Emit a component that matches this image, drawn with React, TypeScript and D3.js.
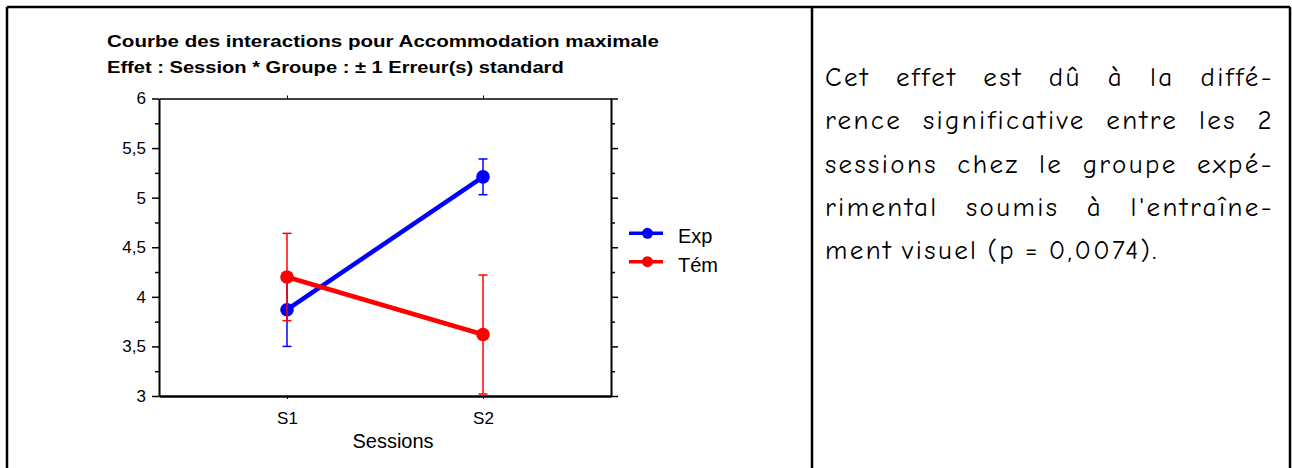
import React, { useEffect, useRef } from 'react';
import * as d3 from 'd3';

// Données
const sessions = ['S1', 'S2'];
const groupes = ['Exp', 'Tém'];
const couleurs = ['#0000ff', '#ff0000'];
const moyennesExp = [3.87, 5.21];
const erreursExp = [0.37, 0.18];
const moyennesTem = [4.2, 3.62];
const erreursTem = [0.44, 0.6];
const graduationsY = [3, 3.5, 4, 4.5, 5, 5.5, 6];
const graduationsMineures = [3.25, 3.75, 4.25, 4.75, 5.25, 5.75];

const titre = [
  'Courbe des interactions pour Accommodation maximale',
  'Effet : Session * Groupe : ± 1 Erreur(s) standard',
];
const titreX = 'Sessions';
const commentaire = [
  'Cet effet est dû à la diffé-',
  'rence significative entre les 2',
  'sessions chez le groupe expé-',
  "rimental soumis à l'entraîne-",
  'ment visuel (p = 0,0074).',
];

const ARIAL = "'Liberation Sans', Arial, sans-serif";
const COMIC = "'Comic Sans MS', 'Comic Neue', 'DejaVu Sans', sans-serif";

const App: React.FC = () => {
  const svgRef = useRef<SVGSVGElement>(null);

  useEffect(() => {
    if (!svgRef.current) return;
    const svg = d3.select(svgRef.current);
    svg.selectAll('*').remove();

    const left = 159, right = 611, top = 98.5, bottom = 396;

    const x = d3.scalePoint<string>().domain(sessions).range([left, right]).padding(0.653);
    const y = d3.scaleLinear().domain([3, 6]).range([bottom, top]);
    const fr = d3.formatLocale({ decimal: ',', thousands: ' ', grouping: [3], currency: ['', ' €'] });
    const fmt = fr.format('~g');

    // Cadre du tableau
    const cadre = svg.append('g').attr('stroke', '#000').attr('stroke-width', 2.5);
    cadre.append('line').attr('x1', 7).attr('x2', 1290).attr('y1', 7).attr('y2', 7);
    cadre.append('line').attr('x1', 7).attr('x2', 7).attr('y1', 7).attr('y2', 468);
    cadre.append('line').attr('x1', 812).attr('x2', 812).attr('y1', 7).attr('y2', 468);
    cadre.append('line').attr('x1', 1290).attr('x2', 1290).attr('y1', 7).attr('y2', 468);

    // Titre (légèrement étiré horizontalement comme l'original)
    const largeursTitre = [552, 457];
    svg.append('g')
      .attr('font-family', ARIAL)
      .attr('font-weight', 'bold')
      .attr('font-size', 17)
      .selectAll('text')
      .data(titre)
      .join('text')
      .text(d => d)
      .each(function (_, i) {
        const w = (this as SVGTextElement).getComputedTextLength();
        d3.select(this).attr('transform', `translate(107,${46.7 + i * 26.3}) scale(${largeursTitre[i] / w},1)`);
      });

    // Axes
    const gLeft = svg.append('g').attr('transform', `translate(${left},0)`);
    gLeft.call(d3.axisLeft(y).tickValues(graduationsY).tickSize(7).tickPadding(6).tickSizeOuter(0)
      .tickFormat(d => fmt(d as number)));
    gLeft.attr('font-size', 17).attr('font-family', ARIAL);
    gLeft.select('.domain').attr('stroke-width', 2);
    gLeft.selectAll('.tick line').attr('stroke-width', 1.5);

    const gLeftMin = svg.append('g').attr('transform', `translate(${left},0)`);
    gLeftMin.call(d3.axisLeft(y).tickValues(graduationsMineures).tickSize(4).tickFormat(() => ''));
    gLeftMin.select('.domain').remove();
    gLeftMin.selectAll('.tick line').attr('stroke-width', 1.5);

    const gRight = svg.append('g').attr('transform', `translate(${right},0)`);
    gRight.call(d3.axisRight(y).tickValues(graduationsY).tickSize(7).tickSizeOuter(0).tickFormat(() => ''));
    gRight.select('.domain').attr('stroke-width', 2);
    gRight.selectAll('.tick line').attr('stroke-width', 1.5);

    const gRightMin = svg.append('g').attr('transform', `translate(${right},0)`);
    gRightMin.call(d3.axisRight(y).tickValues(graduationsMineures).tickSize(4).tickFormat(() => ''));
    gRightMin.select('.domain').remove();
    gRightMin.selectAll('.tick line').attr('stroke-width', 1.5);

    const gTop = svg.append('g').attr('transform', `translate(0,${top})`);
    gTop.call(d3.axisTop(x).tickSize(3).tickSizeOuter(0).tickFormat(() => ''));
    gTop.select('.domain').attr('stroke-width', 1.4);

    const gBottom = svg.append('g').attr('transform', `translate(0,${bottom})`);
    gBottom.call(d3.axisBottom(x).tickSize(3).tickPadding(13).tickSizeOuter(0));
    gBottom.attr('font-size', 17).attr('font-family', ARIAL);
    gBottom.select('.domain').attr('stroke-width', 2.5);

    svg.append('text')
      .attr('x', 393)
      .attr('y', 448)
      .attr('text-anchor', 'middle')
      .attr('font-family', ARIAL)
      .attr('font-size', 20)
      .text(titreX);

    // Séries
    const series = [
      { nom: groupes[0], moyennes: moyennesExp, erreurs: erreursExp, couleur: couleurs[0] },
      { nom: groupes[1], moyennes: moyennesTem, erreurs: erreursTem, couleur: couleurs[1] },
    ];

    const line = d3.line<number>()
      .x((_, i) => x(sessions[i]) as number)
      .y(d => y(d));

    series.forEach(s => {
      const g = svg.append('g');
      const pts = sessions.map((sess, i) => ({ sess, m: s.moyennes[i], e: s.erreurs[i] }));

      const barres = g.append('g').attr('stroke', s.couleur).attr('stroke-width', 1.5);
      barres.selectAll('line.v')
        .data(pts)
        .join('line')
        .attr('class', 'v')
        .attr('x1', d => x(d.sess) as number)
        .attr('x2', d => x(d.sess) as number)
        .attr('y1', d => y(d.m - d.e))
        .attr('y2', d => y(d.m + d.e));
      [-1, 1].forEach(sign => {
        barres.selectAll(`line.c${sign}`)
          .data(pts)
          .join('line')
          .attr('class', `c${sign}`)
          .attr('x1', d => (x(d.sess) as number) - 4.5)
          .attr('x2', d => (x(d.sess) as number) + 4.5)
          .attr('y1', d => y(d.m + sign * d.e))
          .attr('y2', d => y(d.m + sign * d.e));
      });

      g.append('path')
        .attr('d', line(s.moyennes))
        .attr('fill', 'none')
        .attr('stroke', s.couleur)
        .attr('stroke-width', 4.5);

      g.selectAll('circle')
        .data(pts)
        .join('circle')
        .attr('cx', d => x(d.sess) as number)
        .attr('cy', d => y(d.m))
        .attr('r', 6.8)
        .attr('fill', s.couleur);
    });

    // Légende
    const leg = svg.append('g').attr('font-family', ARIAL).attr('font-size', 20);
    series.forEach((s, i) => {
      const ly = 233.3 + i * 28.4;
      leg.append('line')
        .attr('x1', 629).attr('x2', 663)
        .attr('y1', ly).attr('y2', ly)
        .attr('stroke', s.couleur).attr('stroke-width', 3.5);
      leg.append('circle').attr('cx', 647.5).attr('cy', ly).attr('r', 5.5).attr('fill', s.couleur);
      leg.append('text').attr('x', 678).attr('y', ly + 10).text(s.nom);
    });

    // Commentaire justifié
    const para = svg.append('g')
      .attr('font-family', COMIC)
      .attr('font-size', 27)
      .attr('letter-spacing', 2.4);
    const x0 = 825, x1 = 1274;
    commentaire.forEach((ligne, i) => {
      const mots = ligne.split(' ');
      const yl = 86 + i * 43.3;
      const nodes = mots.map(m => para.append('text').attr('y', yl).text(m));
      const larg = nodes.map(n => (n.node() as SVGTextElement).getComputedTextLength());
      const dernier = i === commentaire.length - 1;
      const espace = dernier ? 9 : (x1 - x0 - d3.sum(larg)) / (mots.length - 1);
      let cx = x0;
      nodes.forEach((n, j) => {
        n.attr('x', cx);
        cx += larg[j] + espace;
      });
    });
  }, []);

  return (
    <svg
      ref={svgRef}
      width={1292}
      height={468}
      style={{ position: 'absolute', left: 0, top: 0, background: '#fff' }}
    />
  );
};

export default App;
